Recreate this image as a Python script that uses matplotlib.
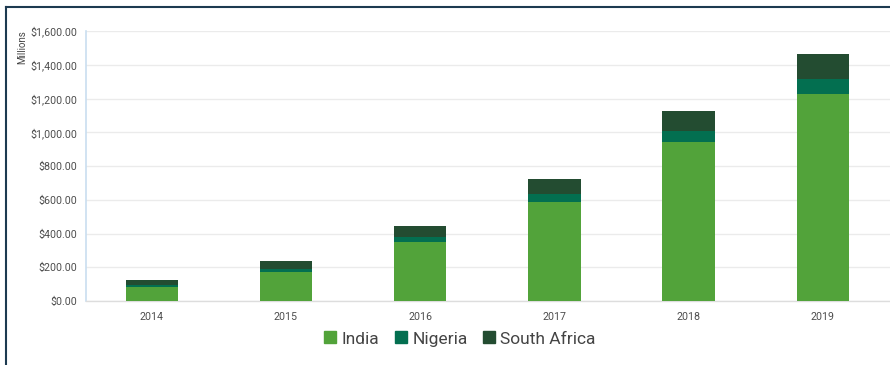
import matplotlib.pyplot as plt
from matplotlib.lines import Line2D
from matplotlib.ticker import FuncFormatter
import numpy as np

years = ["2014", "2015", "2016", "2017", "2018", "2019"]
india = [82, 170, 352, 589, 940, 1228]
nigeria = [10, 20, 25, 47, 69, 89]
south_africa = [31, 47, 67, 89, 117, 145]

colors = {"India": "#52a33a", "Nigeria": "#036f50", "South Africa": "#234c31"}

plt.rcParams['font.family'] = ['Roboto', 'DejaVu Sans']

fig = plt.figure(figsize=(8.9, 3.65), dpi=100)
W, H = 890, 365
ax = fig.add_axes([86 / W, 1 - 301 / H, (890 - 86) / W, 270 / H])

x = np.arange(len(years))
width = 0.39
bottom = np.zeros(len(years))
for name, vals in [("India", india), ("Nigeria", nigeria), ("South Africa", south_africa)]:
    ax.bar(x, vals, width, bottom=bottom, color=colors[name], zorder=3)
    bottom += np.array(vals)

ax.set_xlim(-0.49, 5.5)
ax.set_ylim(0, 1600)
ax.set_yticks(np.arange(0, 1601, 200))
ax.yaxis.set_major_formatter(FuncFormatter(lambda v, p: "${:,.2f}".format(v)))
ax.set_xticks(x)
ax.set_xticklabels(years)
ax.tick_params(axis='both', length=0, labelsize=7.7, colors="#4d4d4d")
ax.tick_params(axis='x', pad=8)
ax.tick_params(axis='y', pad=6)
ax.grid(axis='y', color="#ebebeb", linewidth=1, zorder=0)

for side in ["top", "right"]:
    ax.spines[side].set_visible(False)
ax.spines["left"].set_color("#c9def0")
ax.spines["left"].set_linewidth(1.2)
ax.spines["bottom"].set_color("#dddddd")
ax.spines["bottom"].set_linewidth(1)

fig.text(22 / W, 1 - 47 / H, "Millions", rotation=90, fontsize=7, color="#444444",
         ha='center', va='center')

handles = [Line2D([], [], marker='s', linestyle='none', markersize=8,
                  markerfacecolor=c, markeredgecolor=c) for c in colors.values()]
fig.legend(handles, list(colors.keys()), loc='center', bbox_to_anchor=(460 / W, 1 - 339 / H),
           ncol=3, frameon=False, fontsize=12.5, handletextpad=0.3, handlelength=0.7,
           columnspacing=0.9, labelcolor="#444444")

# frame lines along the left and top edges
fig.add_artist(Line2D([6 / W, 6 / W], [0, 1 - 7 / H], color="#1d3a50", linewidth=1.5))
fig.add_artist(Line2D([6 / W, 1], [1 - 7 / H, 1 - 7 / H], color="#1d3a50", linewidth=1.5))

fig.savefig("out.png", dpi=100)
